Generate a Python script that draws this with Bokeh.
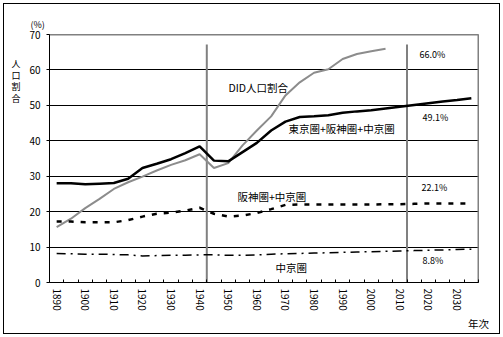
import math
from bokeh.plotting import figure
from bokeh.models import FixedTicker, Label, LinearAxis, Title
from bokeh.embed import file_html
from bokeh.resources import INLINE

# ---- data ----
years = list(range(1890, 2040, 5))
three_metro = [28.0, 28.0, 27.7, 27.9, 28.1, 29.3, 32.3, 33.5, 34.8, 36.5,
               38.4, 34.4, 34.2, 36.8, 39.4, 42.9, 45.4, 46.7, 46.9, 47.2,
               47.9, 48.3, 48.6, 49.1, 49.6, 50.1, 50.6, 51.1, 51.5, 52.0]
did_share = [15.6, 18.0, 21.0, 23.6, 26.4, 28.3, 29.9, 31.6, 33.2, 34.5,
             36.2, 32.3, 33.7, 38.7, 42.9, 46.9, 52.8, 56.5, 59.2, 60.2,
             63.1, 64.5, 65.3, 66.0] + [float("nan")] * 6
hanshin_chukyo = [17.2, 17.2, 17.0, 17.0, 17.0, 17.6, 18.6, 19.4, 19.7, 20.3,
                  21.1, 19.4, 18.6, 18.9, 19.6, 20.7, 21.9, 22.0, 22.0, 22.0,
                  22.0, 22.0, 22.0, 22.1, 22.1, 22.2, 22.3, 22.3, 22.3, 22.3]
chukyo = [8.2, 8.1, 8.0, 8.0, 7.9, 7.8, 7.5, 7.6, 7.7, 7.7,
          7.8, 7.8, 7.7, 7.7, 7.8, 8.0, 8.1, 8.2, 8.3, 8.4,
          8.5, 8.6, 8.7, 8.8, 8.9, 9.0, 9.1, 9.2, 9.3, 9.4]
tick_years = list(range(1890, 2040, 10))
y_ticks = [0, 10, 20, 30, 40, 50, 60, 70]
divider_years = [1942.5, 2012.5]
divider_top = 67.2
y_title_chars = ["人", "口", "割", "合"]
y_title_pos = [61.8, 58.5, 55.2, 52.0]
x_title = "年次"

JP = "Noto Sans CJK JP"
X0, X1 = 1887.5, 2037.5
Y0, Y1 = 0, 70

p = figure(width=503, height=337, output_backend="svg", toolbar_location=None,
           x_range=(X0, X1), y_range=(Y0, Y1),
           min_border_left=49, min_border_right=25, min_border_top=34,
           min_border_bottom=55)
p.background_fill_color = "white"
p.border_fill_color = None
p.outline_line_color = "#808080"
p.outline_line_width = 1
p.styles = {"background-color": "white",
            "box-shadow": "inset 0 0 0 3px white, inset 0 0 0 4px black"}

# grid
p.xgrid.visible = False
p.ygrid.ticker = FixedTicker(ticks=[10, 20, 30, 40, 50, 60])
p.ygrid.grid_line_color = "black"
p.ygrid.grid_line_width = 1

# x axis
xa = p.xaxis[0]
xa.ticker = FixedTicker(ticks=tick_years,
                        minor_ticks=[X0 + 5 * k for k in range(31)])
xa.major_tick_in = 0
xa.major_tick_out = 0
xa.minor_tick_in = 3
xa.minor_tick_out = 0
xa.minor_tick_line_color = "black"
xa.major_label_orientation = -math.pi / 2
xa.major_label_standoff = 6
xa.major_label_text_font = JP
xa.major_label_text_font_size = "10px"
xa.major_label_text_color = "black"
xa.axis_line_color = "black"
xa.axis_label = x_title
xa.axis_label_align = "end"
xa.axis_label_standoff = 2
xa.axis_label_text_font = JP
xa.axis_label_text_font_size = "10.5px"
xa.axis_label_text_font_style = "normal"
xa.axis_label_text_color = "black"

# y axis
ya = p.yaxis[0]
ya.ticker = FixedTicker(ticks=y_ticks)
ya.major_tick_in = 0
ya.major_tick_out = 3
ya.minor_tick_line_color = None
ya.major_label_standoff = 6
ya.major_label_text_font = JP
ya.major_label_text_font_size = "10px"
ya.major_label_text_color = "black"
ya.axis_line_color = "black"

# stacked vertical y title as an extra label-only axis
ax2 = LinearAxis(ticker=FixedTicker(ticks=y_title_pos),
                 major_label_overrides={v: c for v, c in zip(y_title_pos, y_title_chars)},
                 axis_line_color=None, major_tick_line_color=None,
                 minor_tick_line_color=None, major_label_standoff=0,
                 major_label_text_font=JP, major_label_text_font_size="9px",
                 major_label_text_color="black")
p.add_layout(ax2, "left")

# unit label
p.add_layout(Title(text="(%)", align="left", offset=-19, standoff=7,
                   text_font=JP, text_font_size="9px",
                   text_font_style="normal", text_color="black"), "above")

# plot area border (top and right, gray)
p.segment(x0=[X0, X1], y0=[Y1, Y0], x1=[X1, X1], y1=[Y1, Y1],
          line_color="#808080", line_width=2)

# divider lines
p.segment(x0=divider_years, y0=[0, 0], x1=divider_years,
          y1=[divider_top, divider_top], line_color="#808080", line_width=2)

# series
p.line(years, did_share, line_color="#8c8c8c", line_width=2)
p.line(years, three_metro, line_color="black", line_width=2.5)
p.line(years, hanshin_chukyo, line_color="black", line_width=2.5,
       line_dash="5 7")
p.line(years, chukyo, line_color="black", line_width=1.5,
       line_dash="9 5 2 5")


def px_x(px):
    return X0 + (px - 49) / 2.86


def px_y(py):
    return (282 - py) / 3.543


def add_label(text, px, py, size, align="left"):
    p.add_layout(Label(x=px_x(px), y=px_y(py), text=text, text_font=JP,
                       text_font_size=size, text_align=align,
                       text_baseline="middle", text_color="black"))


add_label("DID人口割合", 228, 87, "10.5px")
add_label("東京圏+阪神圏+中京圏", 288, 128, "10.5px")
add_label("阪神圏+中京圏", 237, 196, "10.5px")
add_label("中京圏", 275, 267, "10.5px")
add_label("66.0%", 419, 54, "9px")
add_label("49.1%", 422, 117, "9px")
add_label("22.1%", 421, 187, "9px")
add_label("8.8%", 422, 260, "9px")

open("out.html", "w").write(file_html(p, INLINE))
